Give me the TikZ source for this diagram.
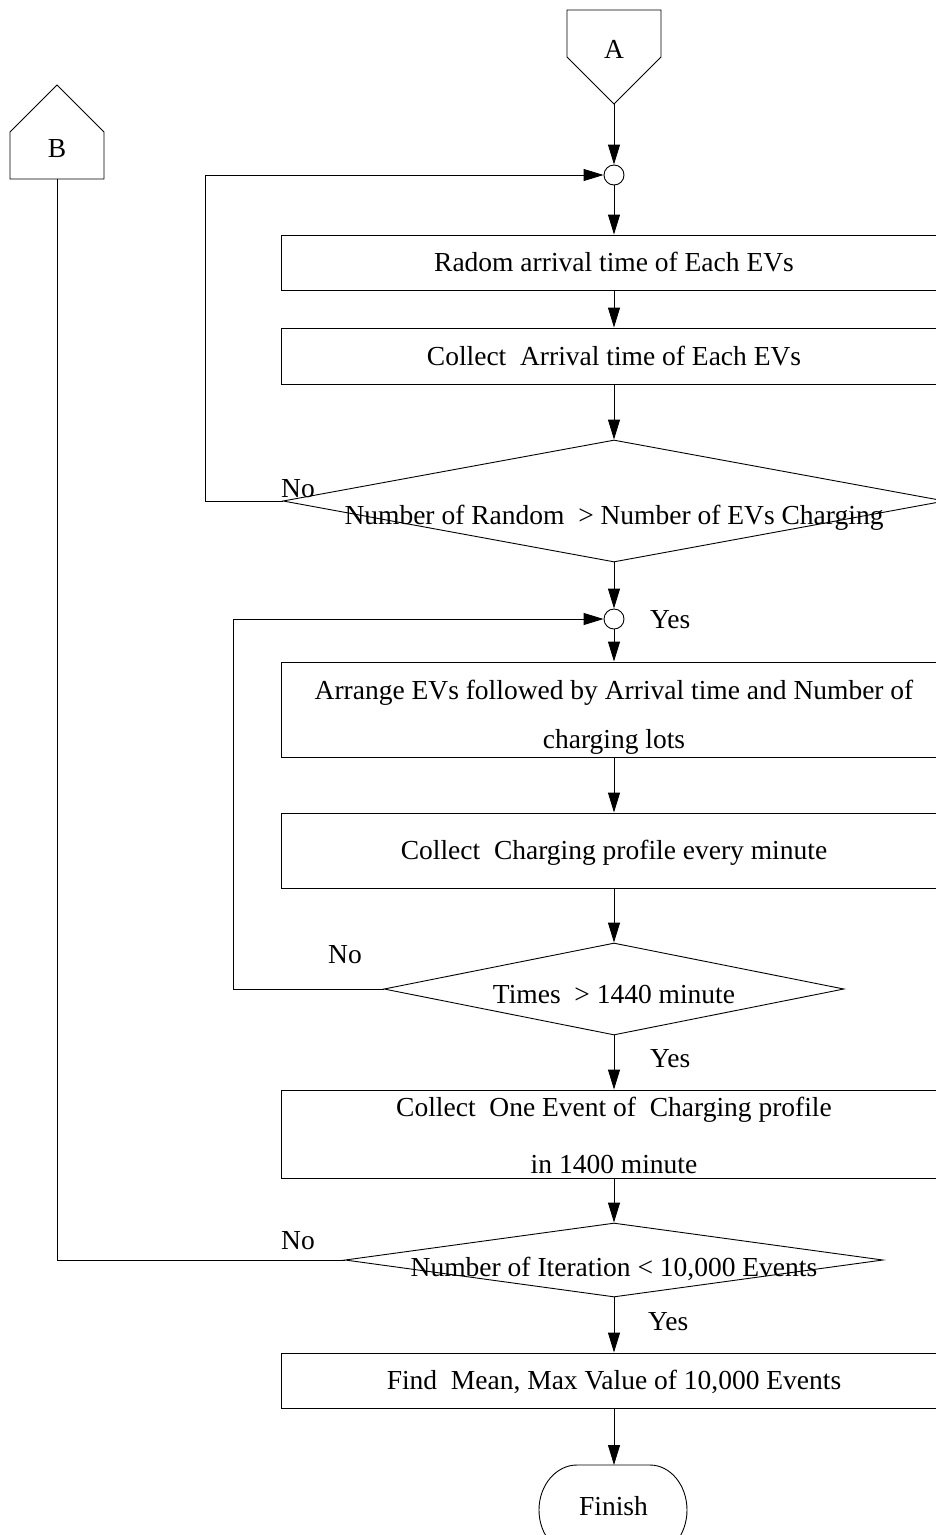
\documentclass[tikz,border=0pt]{standalone}
\usepackage{fontspec}
\setmainfont{Liberation Serif}
\usetikzlibrary{arrows.meta,shapes.geometric}
\begin{document}
\begin{tikzpicture}[x=1pt,y=-1pt,
  every node/.style={font=\fontsize{27.5}{33}\selectfont},
  line/.style={line width=0.9pt},
  arr/.style={line width=0.9pt, -{Triangle[length=20pt,width=12pt]}},
  proc/.style={draw, line width=0.9pt, minimum width=666pt, inner sep=0pt,
    text height=18.8pt, text depth=0pt, align=center},
  dia/.style={draw, diamond, line width=0.9pt, inner sep=0pt},
  junc/.style={draw, circle, minimum size=20pt, inner sep=0pt, line width=0.9pt},
  lbl/.style={inner sep=0pt, anchor=base},
  lblw/.style={inner sep=0pt, anchor=base west},
]
\useasboundingbox (0,0) rectangle (936,1535);
\clip (0,0) rectangle (936,1535);

% off-page connector A
\draw[line] (567,10) -- (661,10) -- (661,57) -- (614,104) -- (567,57) -- cycle;
\node[lbl] (A) at (614,58) {A};
\coordinate (Atip) at (614,104);

% off-page connector B
\draw[line] (10,179) -- (104,179) -- (104,132) -- (57,85) -- (10,132) -- cycle;
\node[lbl] (B) at (57,157) {B};
\coordinate (Bbot) at (57,179);

% main column
\node[junc] (c1) at (614,175) {};
\node[proc, minimum height=55pt] (b1) at (614,262.5) {Radom arrival time of Each EVs};
\node[proc, minimum height=56pt] (b2) at (614,356) {Collect\ \ Arrival time of Each EVs};
\node[dia, minimum width=662pt, minimum height=122pt] (d1) at (614,501) {};
\node[lbl] (t1) at (614,524) {Number of Random\ \ > Number of EVs Charging};
\node[junc] (c2) at (614,619) {};
\node[proc, minimum height=95pt, text height=77pt] (b3) at (614,709.5) {Arrange EVs followed by Arrival time and Number of\\[16pt] charging lots};
\node[proc, minimum height=75pt] (b4) at (614,850.5) {Collect\ \ Charging profile every minute};
\node[dia, minimum width=460pt, minimum height=92pt] (d2) at (614,989) {};
\node[lbl] (t2) at (614,1003) {Times\ \ > 1440 minute};
\node[proc, minimum height=88pt, text height=78pt] (b5) at (614,1134) {Collect\ \ One Event of\ \ Charging profile\\[24pt] in 1400 minute};
\node[dia, minimum width=538pt, minimum height=74pt] (d3) at (614,1260) {};
\node[lbl] (t3) at (614,1276) {Number of Iteration < 10,000 Events};
\node[proc, minimum height=55pt] (b6) at (614,1380.5) {Find\ \ Mean, Max Value of 10,000 Events};

% terminal
\draw[line] (577,1465) -- (650,1465)
  arc[start angle=90, end angle=-90, x radius=37pt, y radius=45pt]
  -- (577,1555)
  arc[start angle=270, end angle=90, x radius=38pt, y radius=45pt] -- cycle;
\node[lbl] (fin) at (613.5,1515) {Finish};
\coordinate (fintop) at (614,1465);

% labels
\node[lbl] (no1) at (298,497) {No};
\node[lbl] (no2) at (345,963) {No};
\node[lbl] (no3) at (298,1249) {No};
\node[lblw] (yes1) at (650,628) {Yes};
\node[lblw] (yes2) at (650,1067) {Yes};
\node[lblw] (yes3) at (648,1330) {Yes};

% connectors
\draw[arr] (Atip) -- (c1);
\draw[arr] (c1) -- (b1);
\draw[arr] (b1) -- (b2);
\draw[arr] (b2) -- (d1);
\draw[arr] (d1.west) -- ++(-77,0) |- (c1);
\draw[arr] (d1) -- (c2);
\draw[arr] (c2) -- (b3);
\draw[arr] (b3) -- (b4);
\draw[arr] (b4) -- (d2);
\draw[arr] (d2.west) -- ++(-150,0) |- (c2);
\draw[arr] (d2) -- (b5);
\draw[arr] (b5) -- (d3);
\draw[line] (d3.west) -| (Bbot);
\draw[arr] (d3) -- (b6);
\draw[arr] (b6) -- (fintop);
\end{tikzpicture}
\end{document}
